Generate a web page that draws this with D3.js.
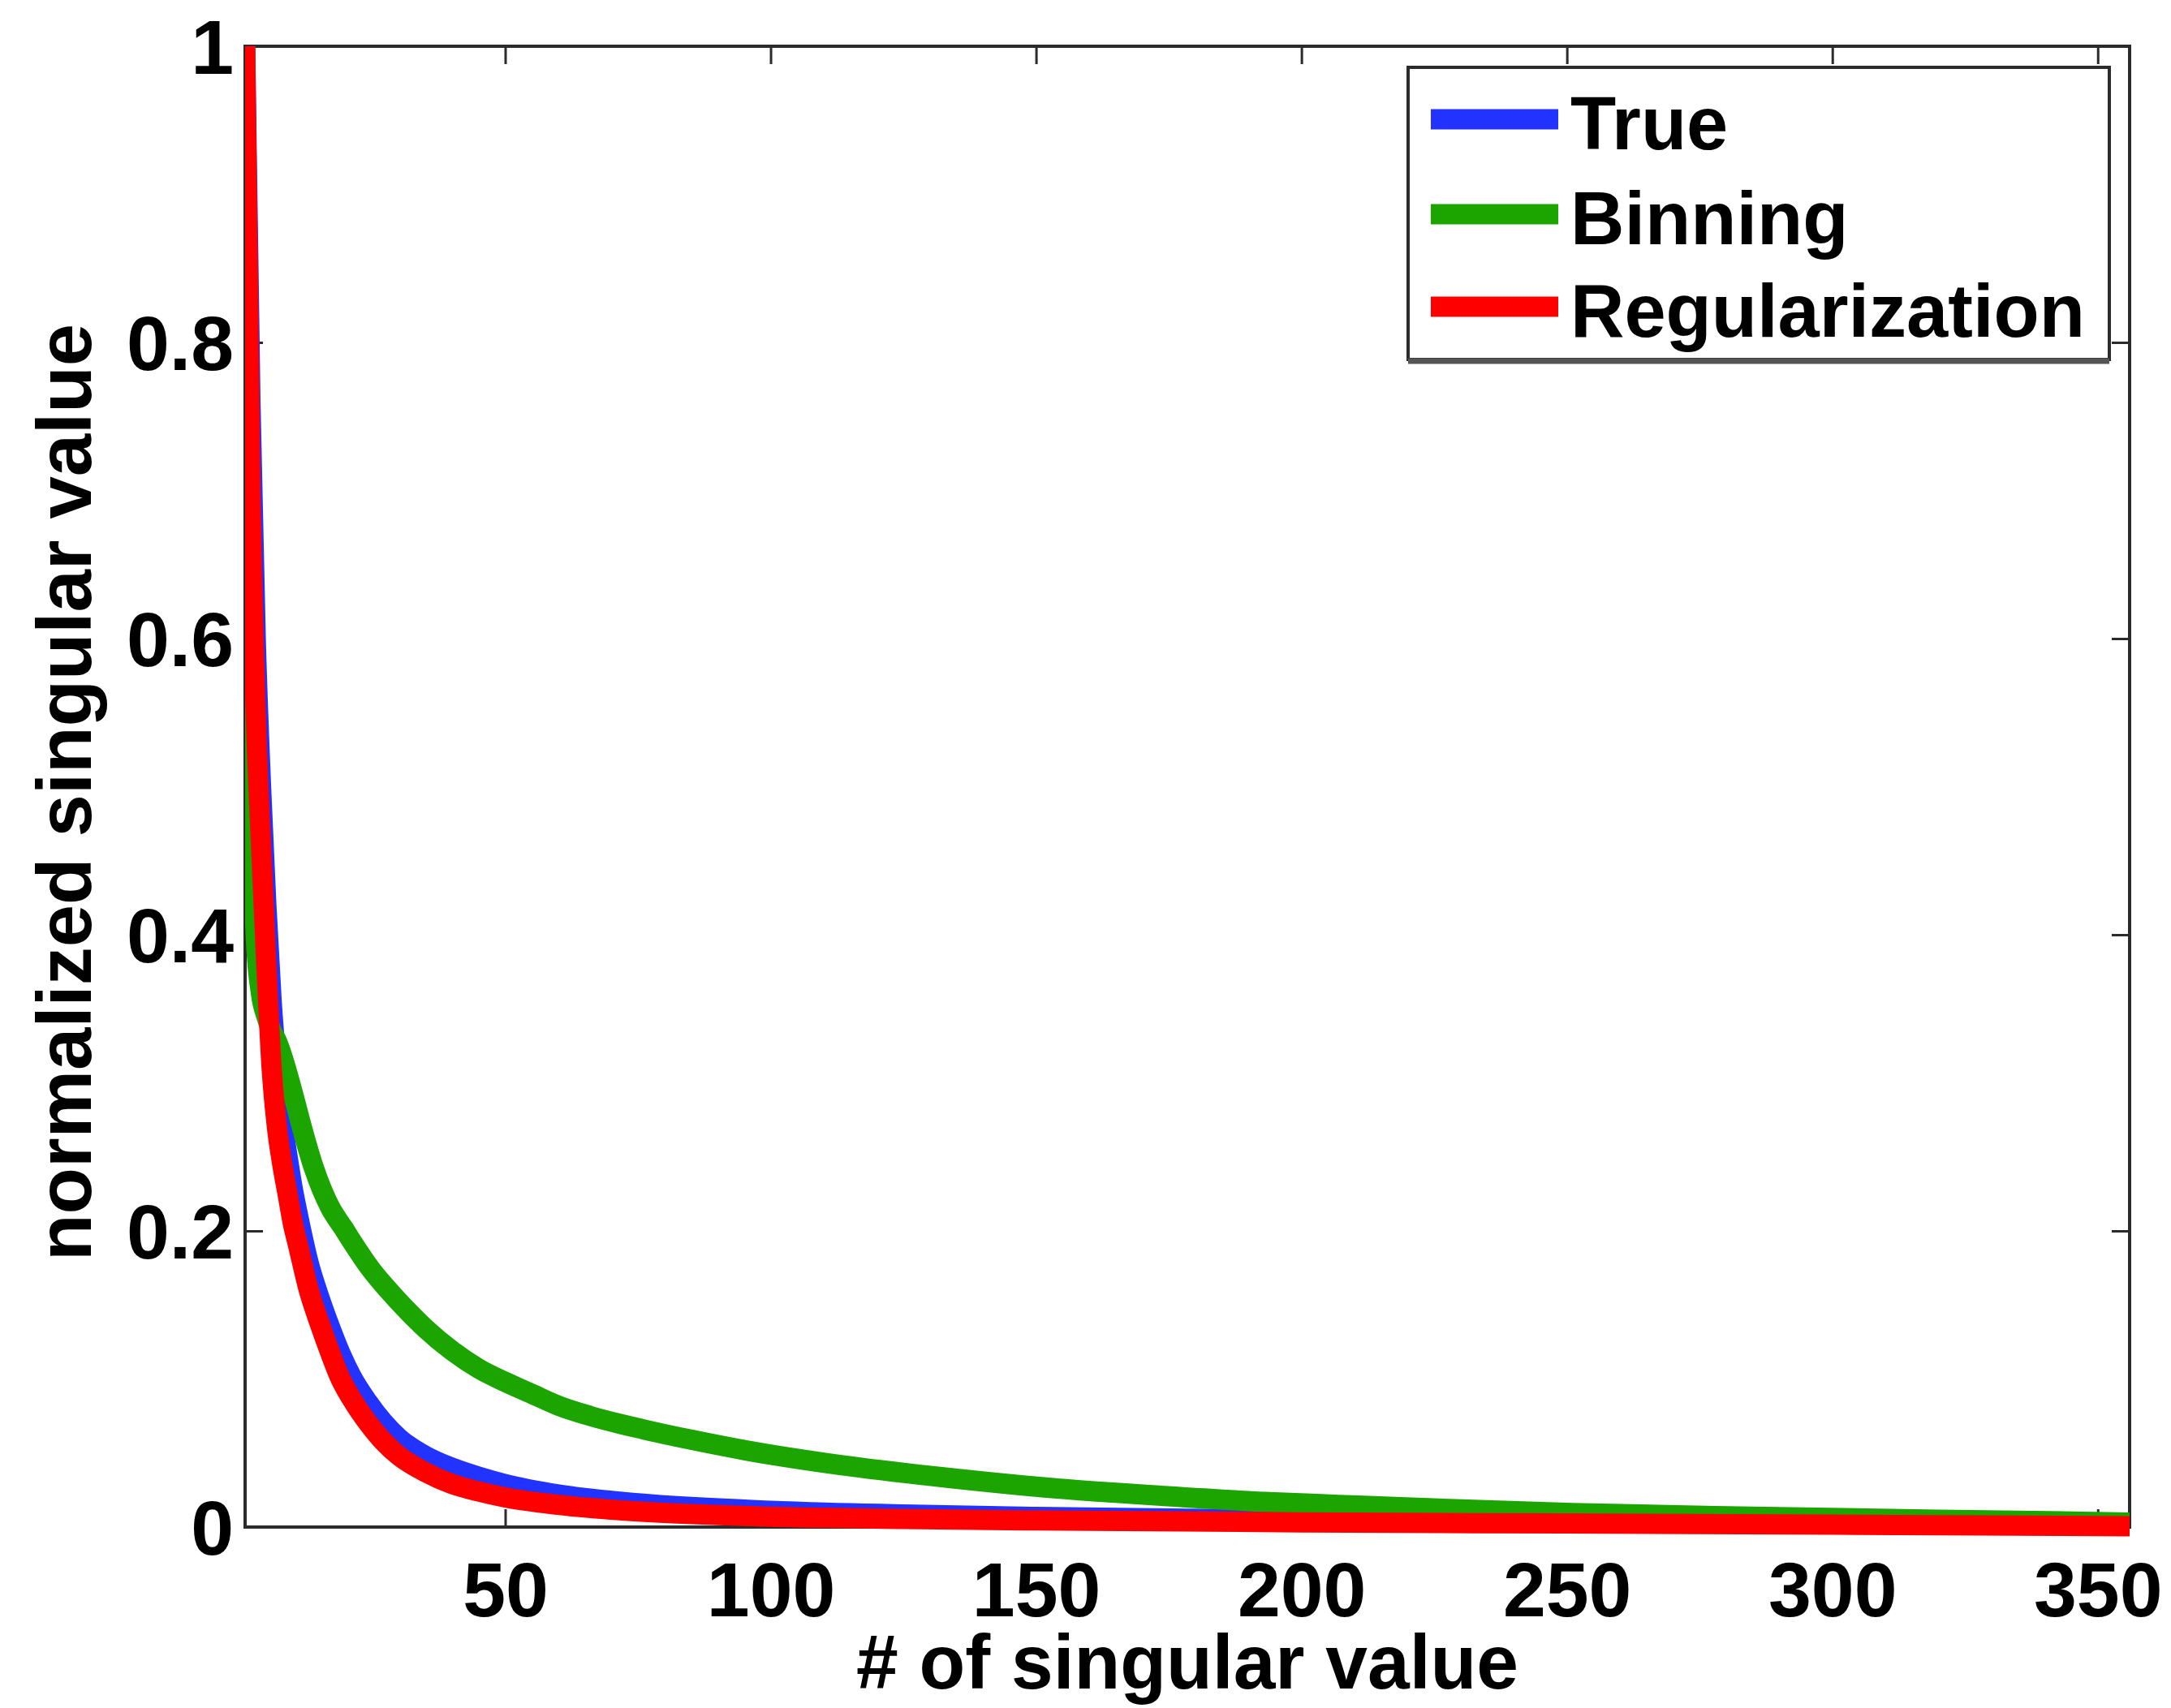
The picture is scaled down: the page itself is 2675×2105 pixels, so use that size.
<!DOCTYPE html>
<html>
<head>
<meta charset="utf-8">
<script src="https://cdn.jsdelivr.net/npm/d3@7"></script>
<style>
  html, body { margin: 0; padding: 0; background: #ffffff; }
  svg { display: block; }
  text { font-family: "Liberation Sans", Arial, Helvetica, sans-serif; font-weight: bold; fill: #000; }
</style>
</head>
<body>
<script>
// Singular value index for each sampled point, per series
const trueIdx = [1, 2, 3, 4, 5, 6, 7, 8, 9, 10, 11, 13, 15, 17, 19, 21, 24, 27, 30, 35, 40, 45, 50, 60, 75, 100, 125, 150, 200, 250, 300, 356];
const trueVals = [1.0, 0.76, 0.6, 0.5, 0.42, 0.355, 0.31, 0.275, 0.25, 0.228, 0.21, 0.178, 0.155, 0.135, 0.117, 0.102, 0.085, 0.071, 0.06, 0.048, 0.04, 0.034, 0.029, 0.022, 0.016, 0.011, 0.0085, 0.0068, 0.0048, 0.0034, 0.0023, 0.0008];

const binIdx = [1, 2, 3, 4, 5, 6, 7, 8, 9, 10, 12, 14, 17, 19.5, 22, 24.5, 27, 29.5, 35, 40, 45, 50, 55, 60, 66, 76, 85, 95, 115, 134, 154, 174, 193, 207, 229, 251, 285, 320, 341, 356];
const binVals = [1.0, 0.55, 0.4, 0.36, 0.345, 0.335, 0.328, 0.318, 0.306, 0.293, 0.266, 0.242, 0.216, 0.202, 0.188, 0.175, 0.164, 0.154, 0.134, 0.119, 0.107, 0.098, 0.09, 0.082, 0.075, 0.066, 0.059, 0.052, 0.041, 0.033, 0.026, 0.021, 0.017, 0.015, 0.012, 0.0095, 0.007, 0.005, 0.004, 0.003];

const regIdx = [1, 2, 3, 4, 5, 6, 7, 8, 9, 10, 11, 13, 15, 17, 19, 21, 24, 27, 30, 35, 40, 45, 50, 60, 75, 100, 125, 150, 200, 250, 300, 356];
const regVals = [1.0, 0.7, 0.55, 0.46, 0.38, 0.31, 0.27, 0.245, 0.225, 0.205, 0.19, 0.16, 0.138, 0.118, 0.1, 0.087, 0.071, 0.058, 0.048, 0.037, 0.029, 0.024, 0.02, 0.015, 0.0105, 0.007, 0.0055, 0.0045, 0.0032, 0.0024, 0.0016, 0.0006];

const seriesNames = ["True", "Binning", "Regularization"];
const seriesColors = ["#2233ff", "#1ca500", "#ff0000"];

const xTickValues = [50, 100, 150, 200, 250, 300, 350];
const xTickLabels = ["50", "100", "150", "200", "250", "300", "350"];
const yTickValues = [0, 0.2, 0.4, 0.6, 0.8, 1];
const yTickLabels = ["0", "0.2", "0.4", "0.6", "0.8", "1"];

const xTitle = "# of singular value";
const yTitle = "normalized singular value";

// ---- layout ----
const W = 2675, H = 2105;
const plot = { left: 302, right: 2624, top: 57, bottom: 1882 };
const FONT = 95;
const LINE_W = 25;
const TICK = 22;

const svg = d3.select("body").append("svg")
  .attr("width", W).attr("height", H)
  .attr("viewBox", `0 0 ${W} ${H}`);

svg.append("rect").attr("width", W).attr("height", H).attr("fill", "#fff");

const x = d3.scaleLinear().domain([1, 356]).range([plot.left, plot.right]);
const y = d3.scaleLinear().domain([0, 1]).range([plot.bottom, plot.top]);

// clip the thick curves at the left/right box edges, let them spill past the floor slightly
svg.append("defs").append("clipPath").attr("id", "plotClip")
  .append("rect")
  .attr("x", plot.left).attr("y", plot.top - 30)
  .attr("width", plot.right - plot.left).attr("height", plot.bottom - plot.top + 50);

const series = [
  { name: seriesNames[0], color: seriesColors[0], pts: trueIdx.map((v, i) => [v, trueVals[i]]) },
  { name: seriesNames[1], color: seriesColors[1], pts: binIdx.map((v, i) => [v, binVals[i]]) },
  { name: seriesNames[2], color: seriesColors[2], pts: regIdx.map((v, i) => [v, regVals[i]]) }
];

const line = d3.line()
  .x(d => x(d[0]))
  .y(d => y(d[1]))
  .curve(d3.curveMonotoneX);

// ---- axes: ticks on all four sides, pointing inward ----
const axisColor = "#2b2b2b";

function styleAxis(g) {
  g.select(".domain").remove();
  g.selectAll(".tick line").attr("stroke", axisColor).attr("stroke-width", 3);
  g.selectAll(".tick text")
    .attr("font-size", FONT)
    .attr("font-family", "Liberation Sans, Arial, sans-serif")
    .attr("font-weight", "bold")
    .attr("fill", "#000");
}

svg.append("g")
  .attr("transform", `translate(0,${plot.bottom})`)
  .call(d3.axisBottom(x).tickValues(xTickValues)
    .tickFormat((d, i) => xTickLabels[i])
    .tickSize(-TICK).tickPadding(43))
  .call(styleAxis);

svg.append("g")
  .attr("transform", `translate(0,${plot.top})`)
  .call(d3.axisTop(x).tickValues(xTickValues).tickFormat("").tickSize(-TICK))
  .call(styleAxis);

svg.append("g")
  .attr("transform", `translate(${plot.left},0)`)
  .call(d3.axisLeft(y).tickValues(yTickValues)
    .tickFormat((d, i) => yTickLabels[i])
    .tickSize(-TICK).tickPadding(14))
  .call(styleAxis)
  .selectAll(".tick text").attr("dy", "0.35em");

svg.append("g")
  .attr("transform", `translate(${plot.right},0)`)
  .call(d3.axisRight(y).tickValues(yTickValues).tickFormat("").tickSize(-TICK))
  .call(styleAxis);

// frame
svg.append("rect")
  .attr("x", plot.left).attr("y", plot.top)
  .attr("width", plot.right - plot.left).attr("height", plot.bottom - plot.top)
  .attr("fill", "none").attr("stroke", axisColor).attr("stroke-width", 4);

// curves drawn over the frame so they sit on the floor line
const curves = svg.append("g").attr("clip-path", "url(#plotClip)");
series.forEach(s => {
  curves.append("path")
    .datum(s.pts)
    .attr("d", line)
    .attr("fill", "none")
    .attr("stroke", s.color)
    .attr("stroke-width", LINE_W)
    .attr("stroke-linejoin", "round")
    .attr("stroke-linecap", "butt");
});

// ---- axis titles ----
svg.append("text")
  .attr("x", (plot.left + plot.right) / 2)
  .attr("y", 2081)
  .attr("text-anchor", "middle")
  .attr("font-size", FONT)
  .attr("textLength", 816)
  .attr("lengthAdjust", "spacingAndGlyphs")
  .text(xTitle);

svg.append("text")
  .attr("transform", `translate(112,${(plot.top + plot.bottom) / 2 + 7}) rotate(-90)`)
  .attr("text-anchor", "middle")
  .attr("font-size", FONT)
  .attr("textLength", 1155)
  .attr("lengthAdjust", "spacingAndGlyphs")
  .text(yTitle);

// ---- legend ----
const legend = { x: 1735, y: 83, w: 2599 - 1735, h: 443 - 83 };
const lg = svg.append("g");
lg.append("rect")
  .attr("x", legend.x).attr("y", legend.y)
  .attr("width", legend.w).attr("height", legend.h)
  .attr("fill", "#fff").attr("stroke", axisColor).attr("stroke-width", 4);
// heavier lower edge
lg.append("line")
  .attr("x1", legend.x).attr("x2", legend.x + legend.w)
  .attr("y1", legend.y + legend.h + 2).attr("y2", legend.y + legend.h + 2)
  .attr("stroke", "#555").attr("stroke-width", 7);

const rowY = [147, 264, 378];
series.forEach((s, i) => {
  lg.append("line")
    .attr("x1", 1763).attr("x2", 1920)
    .attr("y1", rowY[i]).attr("y2", rowY[i])
    .attr("stroke", s.color).attr("stroke-width", 25);
  lg.append("text")
    .attr("x", 1935)
    .attr("y", rowY[i] + 37)
    .attr("font-size", 92)
    .text(s.name);
});
</script>
</body>
</html>
